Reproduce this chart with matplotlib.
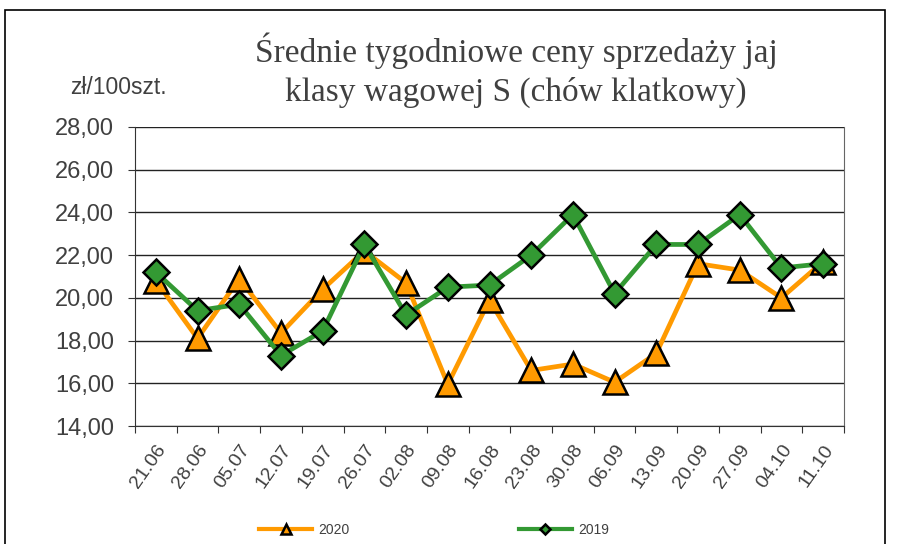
import matplotlib
matplotlib.use("Agg")
import matplotlib.pyplot as plt
from matplotlib.patches import Rectangle
from matplotlib.lines import Line2D
import numpy as np

categories = ["21.06", "28.06", "05.07", "12.07", "19.07", "26.07", "02.08", "09.08",
              "16.08", "23.08", "30.08", "06.09", "13.09", "20.09", "27.09", "04.10", "11.10"]
s2020 = [20.8, 18.1, 20.9, 18.35, 20.4, 22.2, 20.7, 15.95, 19.9, 16.6, 16.9, 16.05,
         17.4, 21.6, 21.3, 20.0, 21.7]
s2019 = [21.2, 19.4, 19.7, 17.3, 18.45, 22.5, 19.2, 20.5, 20.6, 22.0, 23.9, 20.2,
         22.5, 22.5, 23.9, 21.4, 21.6]
yticks = [14, 16, 18, 20, 22, 24, 26, 28]

ORANGE = "#FF9A00"
GREEN = "#339933"
TXT = "#404040"
AX = "#333333"

fig = plt.figure(figsize=(8.97, 5.44), dpi=100)
fig.patches.append(Rectangle((5/897, -0.1), 880/897, 1.1 - 10/544, transform=fig.transFigure,
                             fill=False, edgecolor="#000000", linewidth=1.2))

ax = fig.add_axes([135/897, 1 - 426/544, 709/897, 299/544])
x = np.arange(len(categories))

ax.plot(x, s2020, color=ORANGE, linewidth=3.4, marker="^", markersize=17,
        markerfacecolor=ORANGE, markeredgecolor="black", markeredgewidth=1.8, zorder=3)
ax.plot(x, s2019, color=GREEN, linewidth=3.4, marker="D", markersize=13,
        markerfacecolor=GREEN, markeredgecolor="black", markeredgewidth=1.8, zorder=4)

ax.set_ylim(14, 28)
ax.set_xlim(-0.5, len(categories) - 0.5)
ax.set_yticks(yticks)
ax.set_yticklabels([f"{v:.2f}".replace(".", ",") for v in yticks],
                   fontsize=17, color=TXT, family="Liberation Sans")
ax.yaxis.grid(True, color="#222222", linewidth=1.0)
ax.set_axisbelow(True)

ax.set_xticks(np.arange(-0.5, len(categories), 1.0))
ax.set_xticklabels([])
ax.set_xticks(x, minor=True)
ax.set_xticklabels(categories, minor=True, rotation=55, ha="right",
                   rotation_mode="anchor", fontsize=14, color=TXT,
                   family="Liberation Sans")
ax.tick_params(axis="x", which="minor", length=0, pad=11)
ax.tick_params(axis="x", which="major", length=5, color=AX)
ax.tick_params(axis="y", length=5, color=AX, pad=10)

ax.spines["top"].set_visible(False)
for s in ["left", "bottom", "right"]:
    ax.spines[s].set_color(AX)
ax.spines["right"].set_color("#666666")

fig.text(516/897, 1 - 51/544, "Średnie tygodniowe ceny sprzedaży jaj",
         ha="center", va="center", fontsize=24, color=TXT, family="Liberation Serif")
fig.text(516/897, 1 - 92/544, "klasy wagowej S (chów klatkowy)",
         ha="center", va="center", fontsize=24, color=TXT, family="Liberation Serif")
fig.text(118/897, 1 - 87/544, "zł/100szt.", ha="center", va="center",
         fontsize=16.5, color=TXT, family="Liberation Sans")

handles = [Line2D([], [], color=ORANGE, linewidth=3, marker="^", markersize=7,
                  markerfacecolor=ORANGE, markeredgecolor="black", markeredgewidth=1.8),
           Line2D([], [], color=GREEN, linewidth=3, marker="D", markersize=5.5,
                  markerfacecolor=GREEN, markeredgecolor="black", markeredgewidth=1.8)]
fig.legend(handles, ["2020", "2019"], loc="center", bbox_to_anchor=(434/897, 1 - 530/544),
           ncol=2, frameon=False, columnspacing=12.2, handlelength=3.8, handletextpad=0.45,
           labelcolor=TXT, prop={"family": "Liberation Sans", "size": 10})

fig.savefig("out.png", dpi=100)
